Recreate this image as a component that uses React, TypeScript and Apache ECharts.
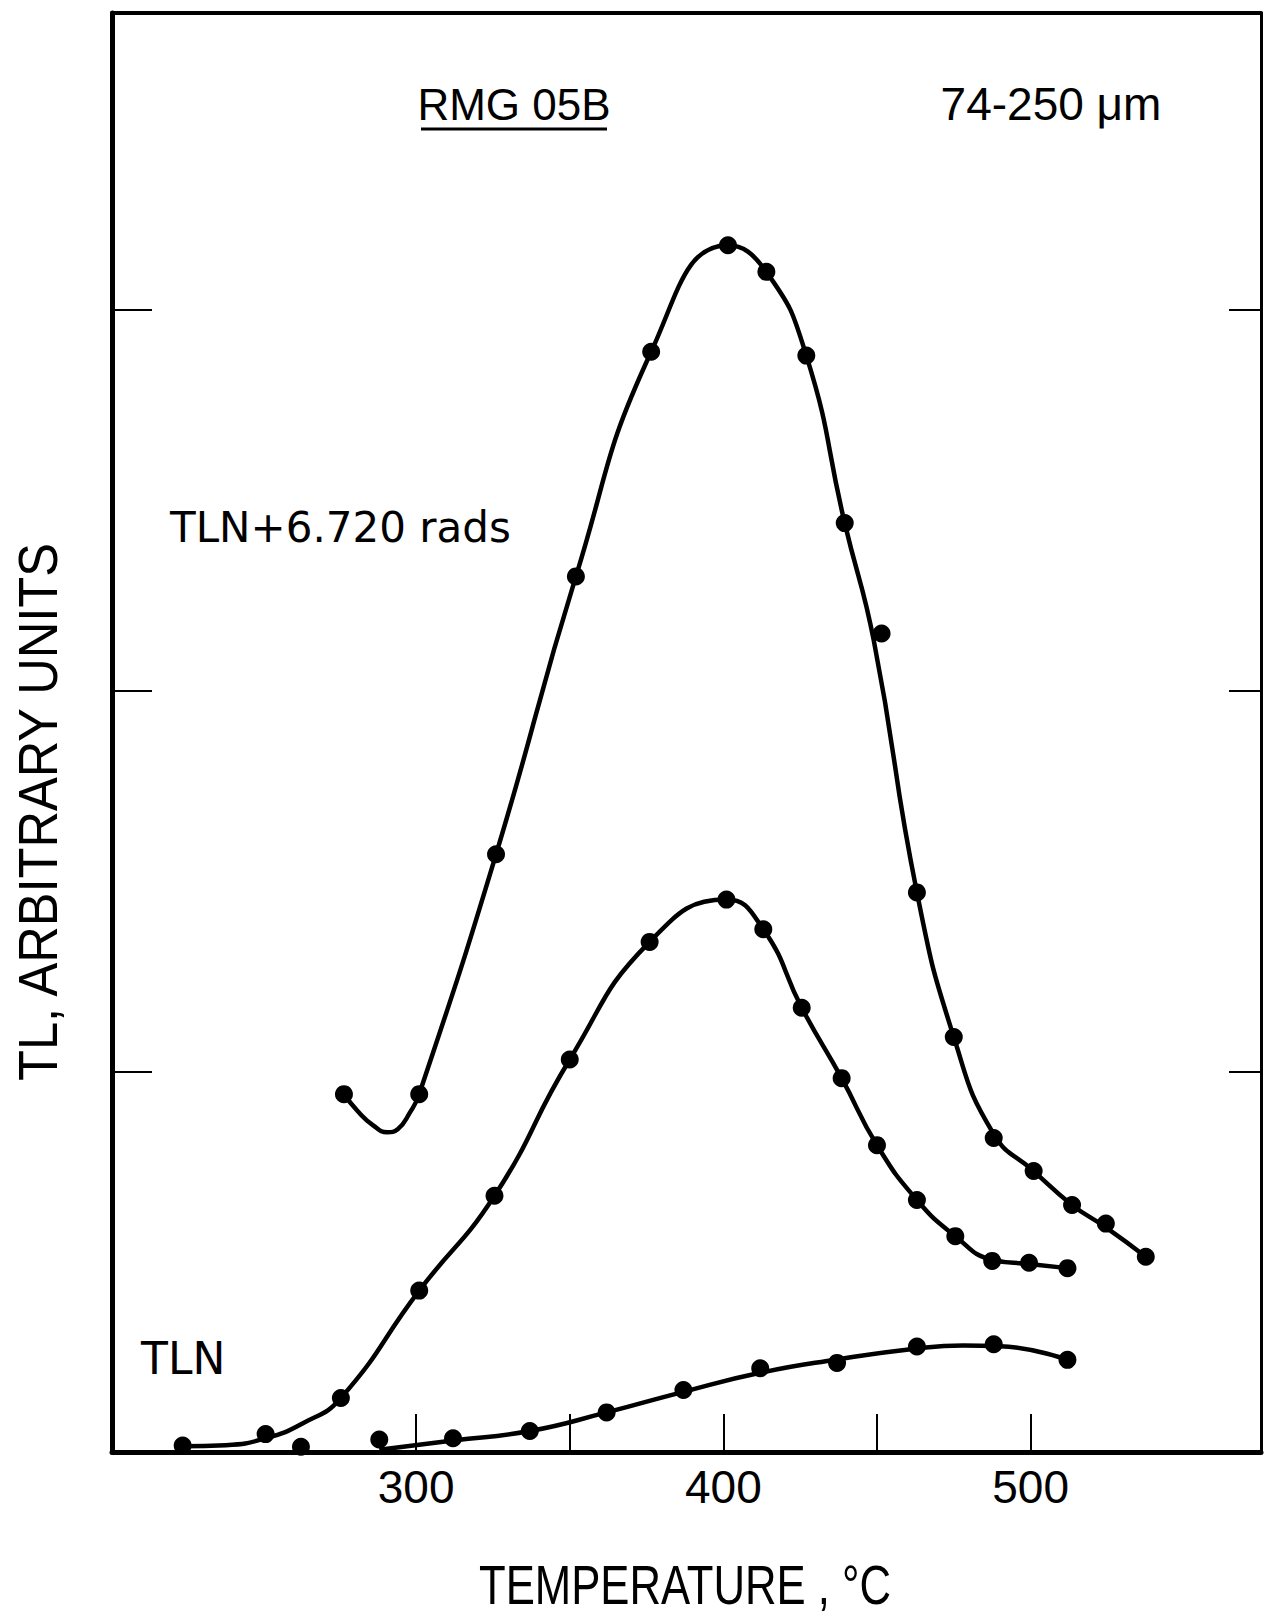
import React, { useEffect, useRef } from "react";
import * as echarts from "echarts";

// Axis ticks / labels
const xTickValues = [300, 350, 400, 450, 500];
const xLabelValues = [300, 400, 500];
const yTickValues = [1, 2, 3];

// Texts
const titleLeft = "RMG 05B";
const titleRight = "74-250 μm";
const upperLabel = "TLN+6.720 rads";
const lowerLabel = "TLN";
const xTitle = "TEMPERATURE , °C";
const yTitle = "TL, ARBITRARY UNITS";

// Measured points (temperature °C, TL arbitrary units)
const upperPoints = [
  [276.5, 0.94], [301, 0.94], [326, 1.57], [352, 2.3], [376.5, 2.89],
  [401.5, 3.17], [414, 3.1], [427, 2.88], [439.5, 2.44], [451.5, 2.15],
  [463, 1.47], [475, 1.09], [488, 0.825], [501, 0.738], [513.5, 0.649],
  [524.5, 0.6], [537.5, 0.513],
];
const middlePoints = [
  [224, 0.017], [251, 0.047], [275.5, 0.142], [301, 0.424], [325.5, 0.673],
  [350, 1.031], [376, 1.34], [401, 1.451], [413, 1.373], [425.5, 1.167],
  [438.5, 0.982], [450, 0.806], [463, 0.662], [475.5, 0.567], [487.5, 0.502],
  [499.5, 0.497], [512, 0.483],
];
const lowerPoints = [
  [262.5, 0.014], [288, 0.033], [312, 0.036], [337, 0.055], [362, 0.104],
  [387, 0.163], [412, 0.22], [437, 0.234], [463, 0.277], [488, 0.283],
  [512, 0.242],
];

// Hand-drawn curves
const upperCurve = [
  [276.5, 0.94], [281, 0.895], [286, 0.858], [290.6, 0.84], [294, 0.848],
  [298, 0.892], [301, 0.94], [326, 1.57], [352, 2.3], [376.5, 2.89],
  [401.5, 3.17], [414, 3.1], [427, 2.88], [439.5, 2.44],
  [449, 2.13], [463, 1.47], [475, 1.09], [488, 0.835], [501, 0.738],
  [513.5, 0.649], [524.5, 0.59], [537.5, 0.513],
];
const middleCurve = [
  [224, 0.015], [238, 0.018], [251, 0.036], [263, 0.075],
  [275.5, 0.142], [301, 0.424], [325.5, 0.673], [350, 1.031],
  [376, 1.34], [401, 1.451], [413, 1.373], [425.5, 1.167], [438.5, 0.982],
  [450, 0.806], [463, 0.662], [475.5, 0.567], [487.5, 0.505], [499.5, 0.494],
  [512, 0.483],
];
const lowerCurve = [
  [288, 0.006], [312, 0.03], [337, 0.055], [362, 0.104], [387, 0.158],
  [412, 0.208], [437, 0.243], [463, 0.272], [478, 0.28], [490, 0.278],
  [512, 0.242],
];

const FONT = '"Liberation Sans", Arial, sans-serif';
const LABEL_FONT = '"DejaVu Sans", sans-serif';

export default function App() {
  const ref = useRef<HTMLDivElement>(null);

  useEffect(() => {
    document.body.style.margin = "0";
    const chart = echarts.init(ref.current!, null, { renderer: "svg" });

    const lineSeries = (name: string, data: number[][]) => ({
      name,
      type: "line",
      data,
      smooth: 0.5,
      showSymbol: false,
      lineStyle: { color: "#000", width: 4.5 },
      z: 2,
    });
    const dotSeries = (name: string, data: number[][]) => ({
      name,
      type: "scatter",
      data,
      symbol: "circle",
      symbolSize: 18,
      itemStyle: { color: "#000", opacity: 1 },
      z: 3,
    });

    const axisLineStyle = (w: number) => ({ show: true, onZero: false, lineStyle: { color: "#000", width: w } });

    chart.setOption({
      animation: false,
      backgroundColor: "#fff",
      grid: { left: 112, top: 13, width: 1149, height: 1439 },
      xAxis: [
        {
          type: "value",
          min: 201,
          max: 575,
          position: "bottom",
          axisLine: axisLineStyle(5),
          axisTick: {
            show: true,
            inside: true,
            length: 38,
            customValues: xTickValues,
            lineStyle: { color: "#000", width: 2 },
          },
          axisLabel: {
            show: true,
            customValues: xLabelValues,
            color: "#000",
            fontSize: 46,
            fontFamily: FONT,
            margin: 12,
          },
          splitLine: { show: false },
        },
        {
          type: "value",
          min: 201,
          max: 575,
          position: "top",
          axisLine: axisLineStyle(4),
          axisTick: { show: false },
          axisLabel: { show: false },
          splitLine: { show: false },
        },
      ],
      yAxis: [
        {
          type: "value",
          min: 0,
          max: 3.78,
          position: "left",
          axisLine: axisLineStyle(5),
          axisTick: {
            show: true,
            inside: true,
            length: 40,
            customValues: yTickValues,
            lineStyle: { color: "#000", width: 2 },
          },
          axisLabel: { show: false },
          splitLine: { show: false },
        },
        {
          type: "value",
          min: 0,
          max: 3.78,
          position: "right",
          axisLine: axisLineStyle(3),
          axisTick: {
            show: true,
            inside: true,
            length: 32,
            customValues: yTickValues,
            lineStyle: { color: "#000", width: 2 },
          },
          axisLabel: { show: false },
          splitLine: { show: false },
        },
      ],
      series: [
        lineSeries("TLN + 6.720 rads curve", upperCurve),
        lineSeries("middle curve", middleCurve),
        lineSeries("TLN curve", lowerCurve),
        dotSeries("TLN + 6.720 rads", upperPoints),
        dotSeries("middle", middlePoints),
        dotSeries("TLN", lowerPoints),
      ],
      graphic: [
        {
          type: "text",
          x: 514,
          y: 104,
          style: { text: titleLeft, fontSize: 44, fontFamily: FONT, fill: "#000", align: "center", verticalAlign: "middle" },
        },
        {
          type: "line",
          shape: { x1: 421, y1: 129, x2: 607, y2: 129 },
          style: { stroke: "#000", lineWidth: 3 },
        },
        {
          type: "text",
          x: 1051,
          y: 104,
          style: { text: titleRight, fontSize: 46, fontFamily: FONT, fill: "#000", align: "center", verticalAlign: "middle" },
        },
        {
          type: "text",
          x: 170,
          y: 527,
          style: { text: upperLabel, fontSize: 42, fontFamily: LABEL_FONT, fill: "#000", align: "left", verticalAlign: "middle" },
        },
        {
          type: "text",
          x: 141,
          y: 1358,
          style: { text: lowerLabel, fontSize: 44, fontFamily: LABEL_FONT, fill: "#000", align: "left", verticalAlign: "middle" },
        },
        {
          type: "text",
          x: 685,
          y: 1585,
          scaleX: 0.78,
          style: { text: xTitle, fontSize: 56, fontFamily: FONT, fill: "#000", align: "center", verticalAlign: "middle" },
        },
        {
          type: "text",
          x: 38,
          y: 812,
          rotation: Math.PI / 2,
          scaleX: 0.92,
          style: { text: yTitle, fontSize: 55, fontFamily: FONT, fill: "#000", align: "center", verticalAlign: "middle" },
        },
      ],
    });

    return () => chart.dispose();
  }, []);

  return (
    <div
      ref={ref}
      style={{ position: "absolute", left: 0, top: 0, width: 1264, height: 1618, background: "#fff" }}
    />
  );
}
